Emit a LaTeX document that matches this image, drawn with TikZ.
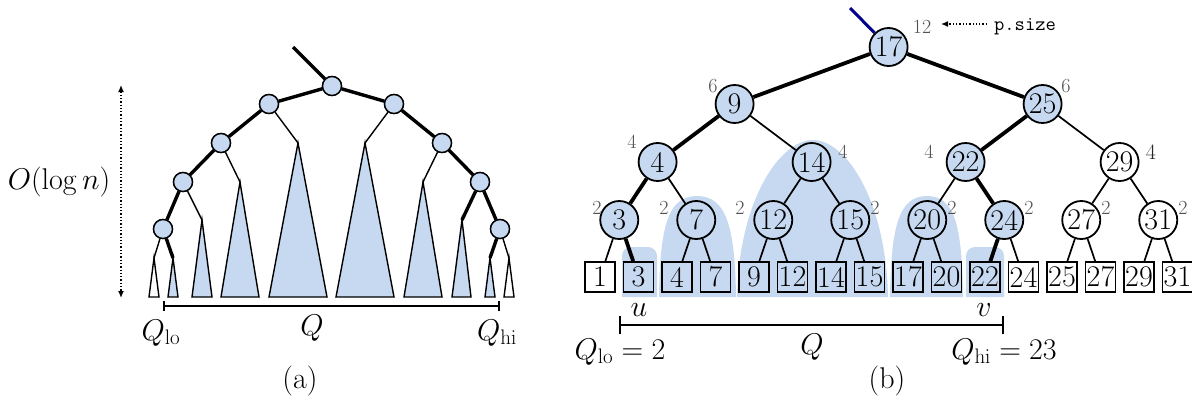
\RequirePackage{fix-cm}
\documentclass[tikz,border=0pt]{standalone}
\usetikzlibrary{arrows.meta}
\definecolor{qblue}{RGB}{198,217,240}
\definecolor{navyline}{RGB}{0,0,140}
\definecolor{sizegray}{RGB}{80,80,80}
\begin{document}
\begin{tikzpicture}[x=1pt,y=-1pt,
  every node/.style={font=\fontsize{30}{36}\selectfont},
  inode/.style={circle,draw,line width=1.8pt,minimum size=38pt,inner sep=0pt},
  hl/.style={fill=qblue},
  leaf/.style={rectangle,draw,line width=1.8pt,minimum width=30pt,minimum height=30pt,inner sep=0pt},
  thinedge/.style={line width=1.7pt},
  thickedge/.style={line width=3.8pt},
  szlabel/.style={text=sizegray,font=\fontsize{20}{24}\selectfont,inner sep=0pt},
  blob/.style={fill=qblue,draw=none},
  anode/.style={circle,draw,fill=qblue,line width=1.4pt,minimum size=19pt,inner sep=0pt},
  athin/.style={line width=1.4pt},
  athick/.style={line width=3.4pt},
  tri/.style={draw,line width=1.4pt,line join=miter},
  lbl/.style={inner sep=0pt},
]
\useasboundingbox (0,0) rectangle (1192,402);

% ================= (a) =================
\coordinate (atop) at (293,47);
\node[anode] (ar) at (332,86) {};
\node[anode] (al1) at (269,104) {};
\node[anode] (al2) at (221,143) {};
\node[anode] (al3) at (183,182) {};
\node[anode] (al4) at (163,229) {};
\node[anode] (ar1) at (394,104) {};
\node[anode] (ar2) at (442,143) {};
\node[anode] (ar3) at (480,182) {};
\node[anode] (ar4) at (500,229) {};
% triangle apexes
\coordinate (t1) at (298,143);
\coordinate (t2) at (240,182);
\coordinate (t3) at (202,220);
\coordinate (t4a) at (154,258);
\coordinate (t4b) at (173,258);
\coordinate (u1) at (365,143);
\coordinate (u2) at (423,182);
\coordinate (u3) at (462,220);
\coordinate (u4a) at (490,258);
\coordinate (u4b) at (509,258);
% triangles
\path[tri,fill=qblue] (t1) -- (269,297) -- (327,297) -- cycle;
\path[tri,fill=qblue] (t2) -- (221,297) -- (259,297) -- cycle;
\path[tri,fill=qblue] (t3) -- (192,297) -- (212,297) -- cycle;
\path[tri,fill=white] (t4a) -- (149,297) -- (159,297) -- cycle;
\path[tri,fill=qblue] (t4b) -- (168,297) -- (178,297) -- cycle;
\path[tri,fill=qblue] (u1) -- (336,297) -- (394,297) -- cycle;
\path[tri,fill=qblue] (u2) -- (404,297) -- (442,297) -- cycle;
\path[tri,fill=qblue] (u3) -- (452,297) -- (471,297) -- cycle;
\path[tri,fill=qblue] (u4a) -- (485,297) -- (495,297) -- cycle;
\path[tri,fill=white] (u4b) -- (504,297) -- (514,297) -- cycle;
% edges
\draw[athick] (atop) -- (ar);
\draw[athick] (ar) -- (al1);
\draw[athick] (al1) -- (al2);
\draw[athick] (al2) -- (al3);
\draw[athick] (al3) -- (al4);
\draw[athick] (al4) -- (t4b);
\draw[athin] (al4) -- (t4a);
\draw[athin] (al3) -- (t3);
\draw[athin] (al2) -- (t2);
\draw[athin] (al1) -- (t1);
\draw[athick] (ar) -- (ar1);
\draw[athick] (ar1) -- (ar2);
\draw[athick] (ar2) -- (ar3);
\draw[athick] (ar3) -- (ar4);
\draw[athick] (ar3) -- (u3);
\draw[athick] (ar4) -- (u4a);
\draw[athin] (ar4) -- (u4b);
\draw[athin] (ar2) -- (u2);
\draw[athin] (ar1) -- (u1);
% redraw nodes on top
\foreach \n in {ar,al1,al2,al3,al4,ar1,ar2,ar3,ar4} {\node[anode] at (\n) {};}
% height arrow
\coordinate (hTop) at (121,85);
\coordinate (hBot) at (121,298);
\draw[line width=1.3pt,dotted,{Latex[length=7pt,width=6pt]}-{Latex[length=7pt,width=6pt]}] (hTop) -- (hBot);
\node[lbl] (logn) at (59,182) {$O(\log n)$};
% Q bar
\coordinate (aqlo) at (163,306);
\coordinate (aqhi) at (500,306);
\draw[line width=1.6pt,{Bar[width=10pt]}-{Bar[width=10pt]}] (aqlo) -- (aqhi);
\node[lbl] (aQlo) at (161,333) {$Q_{\mathrm{lo}}$};
\node[lbl] (aQ) at (312,328) {$Q$};
\node[lbl] (aQhi) at (497,333) {$Q_{\mathrm{hi}}$};
\node[lbl] (capa) at (300,381) {(a)};

% ================= (b) =================
% shaded regions
\path[blob] (622,297) -- (622,256) arc[start angle=180,end angle=270,radius=9] -- (648,247) arc[start angle=270,end angle=360,radius=9] -- (657,297) -- cycle;
\path[blob] (966,297) -- (966,256) arc[start angle=180,end angle=270,radius=9] -- (995,247) arc[start angle=270,end angle=360,radius=9] -- (1004,297) -- cycle;
\path[blob] (659,297) .. controls (660,226) and (668,196) .. (697,196) .. controls (726,196) and (735,226) .. (736,297) -- cycle;
\path[blob] (890,297) .. controls (891,226) and (899,196) .. (927,196) .. controls (955,196) and (962,226) .. (963,297) -- cycle;
\path[blob] (737,297) .. controls (739,200) and (780,140) .. (813,140) .. controls (846,140) and (886,200) .. (888,297) -- cycle;

% nodes
\node[inode,hl] (n17) at (888.6,47) {17};
\node[inode,hl] (n9) at (734.6,104) {9};
\node[inode,hl] (n25) at (1042.6,104) {25};
\node[inode,hl] (n4) at (657.6,162) {4};
\node[inode] (n14) at (811.6,162) {14};
\node[inode,hl] (n22) at (965.6,162) {22};
\node[inode] (n29) at (1119.6,162) {29};
\node[inode,hl] (n3) at (619.25,220) {3};
\node[inode] (n7) at (696.25,220) {7};
\node[inode] (n12) at (773.25,220) {12};
\node[inode] (n15) at (850.25,220) {15};
\node[inode] (n20) at (927.25,220) {20};
\node[inode,hl] (n24) at (1004.25,220) {24};
\node[inode] (n27) at (1081.25,220) {27};
\node[inode] (n31) at (1158.25,220) {31};
% leaves
\node[leaf] (l1) at (600,277) {1};
\node[leaf,hl] (l3) at (638.5,277) {3};
\node[leaf] (l4) at (677,277) {4};
\node[leaf] (l7) at (715.5,277) {7};
\node[leaf] (l9) at (754,277) {9};
\node[leaf] (l12) at (792.5,277) {12};
\node[leaf] (l14) at (831,277) {14};
\node[leaf] (l15) at (869.5,277) {15};
\node[leaf] (l17) at (908,277) {17};
\node[leaf] (l20) at (946.5,277) {20};
\node[leaf,hl] (l22) at (985,277) {22};
\node[leaf] (l24) at (1023.5,277) {24};
\node[leaf] (l25) at (1062,277) {25};
\node[leaf] (l27) at (1100.5,277) {27};
\node[leaf] (l29) at (1139,277) {29};
\node[leaf] (l31) at (1177.5,277) {31};

% edges
\coordinate (btop) at (850,8);
\draw[line width=3pt,navyline] (btop) -- (n17);
\draw[thickedge] (n17) -- (n9);
\draw[thickedge] (n17) -- (n25);
\draw[thickedge] (n9) -- (n4);
\draw[thinedge] (n9) -- (n14);
\draw[thickedge] (n25) -- (n22);
\draw[thinedge] (n25) -- (n29);
\draw[thickedge] (n4) -- (n3);
\draw[thinedge] (n4) -- (n7);
\draw[thinedge] (n14) -- (n12);
\draw[thinedge] (n14) -- (n15);
\draw[thinedge] (n22) -- (n20);
\draw[thickedge] (n22) -- (n24);
\draw[thinedge] (n29) -- (n27);
\draw[thinedge] (n29) -- (n31);
\draw[thinedge] (n3) -- (l1);
\draw[thickedge] (n3) -- (l3);
\draw[thinedge] (n7) -- (l4);
\draw[thinedge] (n7) -- (l7);
\draw[thinedge] (n12) -- (l9);
\draw[thinedge] (n12) -- (l12);
\draw[thinedge] (n15) -- (l14);
\draw[thinedge] (n15) -- (l15);
\draw[thinedge] (n20) -- (l17);
\draw[thinedge] (n20) -- (l20);
\draw[thickedge] (n24) -- (l22);
\draw[thinedge] (n24) -- (l24);
\draw[thinedge] (n27) -- (l25);
\draw[thinedge] (n27) -- (l27);
\draw[thinedge] (n31) -- (l29);
\draw[thinedge] (n31) -- (l31);

% size labels
\node[szlabel] (s17) at (922,27) {12};
\node[szlabel] (s9) at (713,86) {6};
\node[szlabel] (s25) at (1066,86) {6};
\node[szlabel] (s4) at (632,142) {4};
\node[szlabel] (s14) at (843,152) {4};
\node[szlabel] (s22) at (929,152) {4};
\node[szlabel,text=black!85,font=\fontsize{22}{26}\selectfont] (s29) at (1151,152) {4};
\node[szlabel] (s3) at (597,208) {2};
\node[szlabel] (s7) at (664,208) {2};
\node[szlabel] (s12) at (740,208) {2};
\node[szlabel] (s15) at (875,208) {2};
\node[szlabel] (s20) at (952,208) {2};
\node[szlabel] (s24) at (1029,208) {2};
\node[szlabel] (s27) at (1106,208) {2};
\node[szlabel] (s31) at (1183,208) {2};

% p.size
\node[lbl,font=\fontsize{20}{24}\ttfamily] (psize) at (1025,27) {p.size};
\coordinate (pa) at (987,24);
\coordinate (pb) at (941,24);
\draw[line width=1.3pt,dotted,-{Latex[length=7pt,width=6pt]}] (pa) -- (pb);
% Q bar
\coordinate (bqlo) at (619,325);
\coordinate (bqhi) at (1004,325);
\draw[line width=1.8pt,{Bar[width=18pt]}-{Bar[width=18pt]}] (bqlo) -- (bqhi);
\node[lbl] (lu) at (639,310) {$u$};
\node[lbl] (lv) at (984,310) {$v$};
\node[lbl] (bQlo) at (620,352) {$Q_{\mathrm{lo}}=2$};
\node[lbl] (bQ) at (812,347) {$Q$};
\node[lbl] (bQhi) at (1004,352) {$Q_{\mathrm{hi}}=23$};
\node[lbl] (capb) at (887,381) {(b)};
\end{tikzpicture}
\end{document}
